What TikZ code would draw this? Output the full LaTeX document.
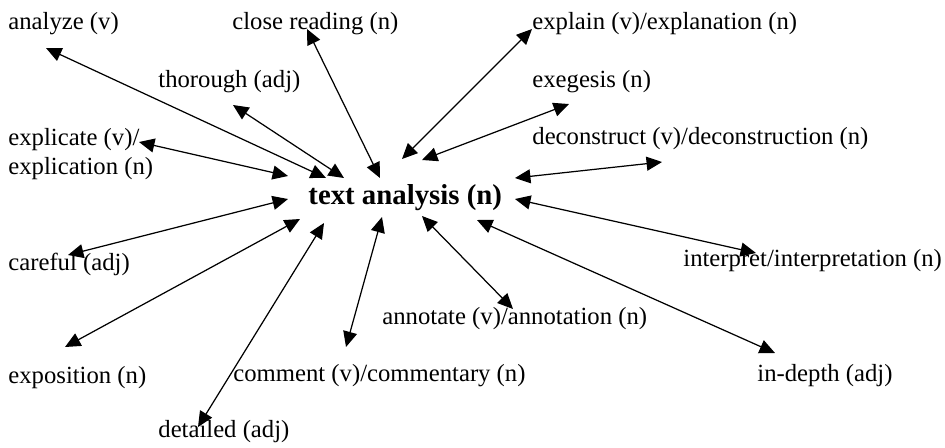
\documentclass[tikz,border=0pt]{standalone}
\usepackage{fontspec}
\setmainfont{Liberation Serif}
\usetikzlibrary{arrows.meta}

\begin{document}
\begin{tikzpicture}[
  x=0.486pt, y=-0.486pt,
  every node/.style={inner sep=0pt, anchor=west, font=\fontsize{12}{13.8}\selectfont},
  hub/.style={font=\fontsize{14}{16}\selectfont\bfseries},
  link/.style={<->, line width=0.6pt},
  >={Triangle[length=7.5pt,width=6.8pt]}
]
\useasboundingbox (0,0) rectangle (945,447);

\node[hub] (ta) at (308,198) {text analysis (n)};

\node (analyze)     at (8,24)    {analyze (v)};
\node (close)       at (232,24)  {close reading (n)};
\node (explain)     at (532,24)  {explain (v)/explanation (n)};
\node (thorough)    at (158,82)  {thorough (adj)};
\node (exegesis)    at (532,82)  {exegesis (n)};
\node[align=left] (explicate) at (8,154) {explicate (v)/\\explication (n)};
\node (deconstruct) at (532,139) {deconstruct (v)/deconstruction (n)};
\node (careful)     at (8,264)   {careful (adj)};
\node (interpret)   at (683,261) {interpret/interpretation (n)};
\node (annotate)    at (382,319) {annotate (v)/annotation (n)};
\node (exposition)  at (8,378)   {exposition (n)};
\node (comment)     at (233,376) {comment (v)/commentary (n)};
\node (indepth)     at (757,376) {in-depth (adj)};
\node (detailed)    at (158,432) {detailed (adj)};

\coordinate (analyze-w)     at (46,48);   \coordinate (analyze-h)     at (326,178);
\coordinate (thorough-w)    at (233,105); \coordinate (thorough-h)    at (344,178);
\coordinate (close-w)       at (307,29);  \coordinate (close-h)       at (380,178);
\coordinate (explicate-w)   at (139,142); \coordinate (explicate-h)   at (288,176);
\coordinate (careful-w)     at (68,255);  \coordinate (careful-h)     at (288,199);
\coordinate (explain-w)     at (532,29);  \coordinate (explain-h)     at (402,159);
\coordinate (exegesis-w)    at (569,104); \coordinate (exegesis-h)    at (422,160);
\coordinate (deconstruct-w) at (662,162); \coordinate (deconstruct-h) at (515,178);
\coordinate (interpret-w)   at (756,253); \coordinate (interpret-h)   at (515,199);
\coordinate (indepth-w)     at (775,353); \coordinate (indepth-h)     at (477,220);
\coordinate (annotate-w)    at (513,309); \coordinate (annotate-h)    at (422,216);
\coordinate (comment-w)     at (346,347); \coordinate (comment-h)     at (382,217);
\coordinate (exposition-w)  at (65,347);  \coordinate (exposition-h)  at (300,219);
\coordinate (detailed-w)    at (198,427); \coordinate (detailed-h)    at (324,223);

\draw[link] (analyze-w) -- (analyze-h);
\draw[link] (thorough-w) -- (thorough-h);
\draw[link] (close-w) -- (close-h);
\draw[link] (explicate-w) -- (explicate-h);
\draw[link] (careful-w) -- (careful-h);
\draw[link] (explain-w) -- (explain-h);
\draw[link] (exegesis-w) -- (exegesis-h);
\draw[link] (deconstruct-w) -- (deconstruct-h);
\draw[link] (interpret-w) -- (interpret-h);
\draw[link] (indepth-w) -- (indepth-h);
\draw[link] (annotate-w) -- (annotate-h);
\draw[link] (comment-w) -- (comment-h);
\draw[link] (exposition-w) -- (exposition-h);
\draw[link] (detailed-w) -- (detailed-h);
\end{tikzpicture}
\end{document}
